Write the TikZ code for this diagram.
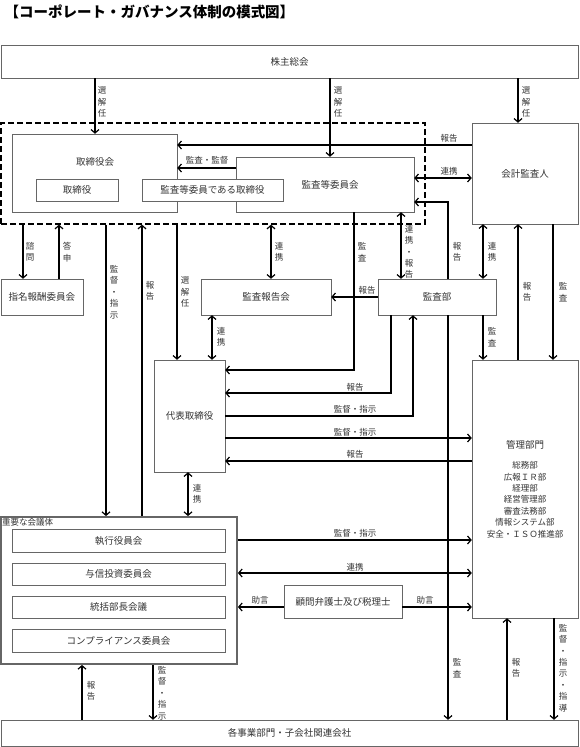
\documentclass[tikz,border=0pt]{standalone}
\usepackage{fontspec}
\setmainfont{Noto Sans CJK JP}
\usetikzlibrary{arrows.meta}
\tikzset{
    box/.style ={
        rectangle,            % 矩形
        draw = black!60,      % 枠線の色
        fill = white,         % 背景
        text = black!80,      % 文字色
        inner sep = 0pt,
        font = \fontsize{9.5}{11.4}\selectfont
    },
    lbl/.style ={
        inner sep = 0pt,
        align = center,       % 縦書きは \\ で改行
        text = black!80,
        font = \fontsize{8.5}{11.4}\selectfont
    },
    link/.style ={
        line width = 1.2pt,
        >={Straight Barb[length=3.5pt,width=8pt]}
    }
}

\begin{document}
\begin{tikzpicture}[x=1pt, y=-1pt]
    \useasboundingbox (0,0) rectangle (579,747);
    \node[anchor=west, font=\bfseries\fontsize{14.5}{16}\selectfont] (title) at (1,12) {【コーポレート・ガバナンス体制の模式図】};

    % 箱
    \node[box, minimum width=577pt, minimum height=33pt] (agm) at (289.5,61.5) {株主総会};
    \node[draw, line width=1.2pt, dash pattern=on 6pt off 3pt, minimum width=424pt, minimum height=101pt, inner sep=0pt] (dashbox) at (213,173.5) {};
    \node[box, minimum width=165pt, minimum height=78pt] (board) at (94.5,173) {};
    \node[lbl, font=\fontsize{9.5}{11.4}\selectfont] (boardlbl) at (95,162) {取締役会};
    \node[box, minimum width=178pt, minimum height=55pt] (auditcom) at (325,184.5) {\hspace*{10pt}監査等委員会};
    \node[box, minimum width=82pt, minimum height=22pt] (director) at (77,190) {取締役};
    \node[box, minimum width=141pt, minimum height=22pt] (auditdir) at (212.5,190) {監査等委員である取締役};
    \node[box, minimum width=106pt, minimum height=101pt] (extaud) at (525,173.5) {会計監査人};
    \node[box, minimum width=82pt, minimum height=36pt] (nomcom) at (42,297) {指名報酬委員会};
    \node[box, minimum width=130pt, minimum height=36pt] (auditrep) at (266,297) {監査報告会};
    \node[box, minimum width=118pt, minimum height=36pt] (auditdep) at (437,297) {監査部};
    \node[box, minimum width=71pt, minimum height=112pt] (ceo) at (189.5,416) {代表取締役};
    \node[box, minimum width=106pt, minimum height=258pt, align=center, font=\fontsize{8.5}{11.4}\selectfont] (admin) at (525,489) {{\fontsize{9.5}{11.4}\selectfont 管理部門}\\[9pt]総務部\\広報ＩＲ部\\経理部\\経営管理部\\審査法務部\\情報システム部\\安全・ＩＳＯ推進部};
    \node[box, line width=1.8pt, minimum width=236pt, minimum height=147pt] (council) at (119,590.5) {};
    \node[lbl, anchor=north west, font=\fontsize{8.5}{10}\selectfont] (councillbl) at (2,518) {重要な会議体};
    \node[box, minimum width=213pt, minimum height=23pt] (exec) at (118.5,540.5) {執行役員会};
    \node[box, minimum width=213pt, minimum height=22pt] (credit) at (118.5,574) {与信投資委員会};
    \node[box, minimum width=213pt, minimum height=22pt] (mgrmtg) at (118.5,607) {統括部長会議};
    \node[box, minimum width=213pt, minimum height=23pt] (compl) at (118.5,640.5) {コンプライアンス委員会};
    \node[box, minimum width=118pt, minimum height=33pt] (advisor) at (343,601.5) {顧問弁護士及び税理士};
    \node[box, minimum width=577pt, minimum height=26pt] (biz) at (289.5,733) {各事業部門・子会社関連会社};

    % 株主総会から
    \draw[link,->] (agm.south -| 95,0) -- (board.north -| 95,0);
    \node[lbl] (l1) at (102,102) {選\\解\\任};
    \draw[link,->] (agm.south -| 330,0) -- (auditcom.north -| 330,0);
    \node[lbl] (l2) at (338,102) {選\\解\\任};
    \draw[link,->] (agm.south -| 518,0) -- (extaud.north -| 518,0);
    \node[lbl] (l3) at (526,102) {選\\解\\任};

    % 取締役会まわり
    \draw[link,->] (extaud.west |- 0,145) -- (board.east |- 0,145);
    \node[lbl] (l4) at (449,138) {報告};
    \draw[link,->] (auditcom.west |- 0,168) -- (board.east |- 0,168);
    \node[lbl] (l5) at (207,160) {監査・監督};
    \draw[link,<->] (auditcom.east |- 0,178) -- (extaud.west |- 0,178);
    \node[lbl] (l6) at (449,171) {連携};
    \draw[link,->] (auditdep.north -| 448,0) |- (auditcom.east |- 0,202);
    \node[lbl] (l7) at (457,252) {報\\告};
    \draw[link,<->] (auditcom.south -| 401,0) -- (auditdep.north -| 401,0);
    \node[lbl] (l8) at (409,252) {連\\携\\・\\報\\告};
    \draw[link,->] (auditcom.south -| 354,0) |- (ceo.east |- 0,370);
    \node[lbl] (l9) at (362,252) {監\\査};
    \draw[link,<->] (dashbox.south -| 271,0) -- (auditrep.north -| 271,0);
    \node[lbl] (l10) at (279,252) {連\\携};

    % 左側
    \draw[link,->] (dashbox.south -| 23,0) -- (nomcom.north -| 23,0);
    \node[lbl] (l11) at (30,252) {諮\\問};
    \draw[link,->] (nomcom.north -| 59,0) -- (dashbox.south -| 59,0);
    \node[lbl] (l12) at (67,252) {答\\申};
    \draw[link,->] (dashbox.south -| 106,0) -- (council.north -| 106,0);
    \node[lbl] (l13) at (114,292) {監\\督\\・\\指\\示};
    \draw[link,->] (council.north -| 142,0) -- (dashbox.south -| 142,0);
    \node[lbl] (l14) at (150,291) {報\\告};
    \draw[link,->] (dashbox.south -| 177,0) -- (ceo.north -| 177,0);
    \node[lbl] (l15) at (185,292) {選\\解\\任};
    \draw[link,<->] (auditrep.south -| 212,0) -- (ceo.north -| 212,0);
    \node[lbl] (l16) at (221,337) {連\\携};

    % 監査部・会計監査人
    \draw[link,->] (auditdep.west) -- (auditrep.east);
    \node[lbl] (l17) at (367,290) {報告};
    \draw[link,<->] (extaud.south -| 483,0) -- (auditdep.north -| 483,0);
    \node[lbl] (l18) at (492,252) {連\\携};
    \draw[link,->] (admin.north -| 518,0) -- (extaud.south -| 518,0);
    \node[lbl] (l19) at (527,292) {報\\告};
    \draw[link,->] (extaud.south -| 553,0) -- (admin.north -| 553,0);
    \node[lbl] (l20) at (563,292) {監\\査};
    \draw[link,->] (auditdep.south -| 483,0) -- (admin.north -| 483,0);
    \node[lbl] (l21) at (492,337) {監\\査};
    \draw[link,->] (auditdep.south -| 448,0) -- (biz.north -| 448,0);
    \node[lbl] (l22) at (457,668) {監\\査};

    % 代表取締役
    \draw[link,->] (auditdep.south -| 391,0) |- (ceo.east |- 0,393);
    \node[lbl] (l23) at (355,387) {報告};
    \draw[link,->] (ceo.east |- 0,416) -| (auditdep.south -| 413,0);
    \node[lbl] (l24) at (355,409) {監督・指示};
    \draw[link,->] (ceo.east |- 0,438) -- (admin.west |- 0,438);
    \node[lbl] (l25) at (355,432) {監督・指示};
    \draw[link,->] (admin.west |- 0,461) -- (ceo.east |- 0,461);
    \node[lbl] (l26) at (355,454) {報告};
    \draw[link,<->] (ceo.south -| 188,0) -- (council.north -| 188,0);
    \node[lbl] (l27) at (197,494) {連\\携};

    % 重要な会議体
    \draw[link,->] (council.east |- 0,540) -- (admin.west |- 0,540);
    \node[lbl] (l28) at (355,533) {監督・指示};
    \draw[link,<->] (council.east |- 0,573) -- (admin.west |- 0,573);
    \node[lbl] (l29) at (355,567) {連携};
    \draw[link,->] (advisor.west |- 0,607) -- (council.east |- 0,607);
    \node[lbl] (l30) at (260,600) {助言};
    \draw[link,->] (advisor.east |- 0,607) -- (admin.west |- 0,607);
    \node[lbl] (l31) at (425,600) {助言};

    % 各事業部門
    \draw[link,->] (biz.north -| 82,0) -- (council.south -| 82,0);
    \node[lbl] (l32) at (91,691) {報\\告};
    \draw[link,->] (council.south -| 153,0) -- (biz.north -| 153,0);
    \node[lbl] (l33) at (162,693) {監\\督\\・\\指\\示};
    \draw[link,->] (biz.north -| 507,0) -- (admin.south -| 507,0);
    \node[lbl] (l34) at (516,668) {報\\告};
    \draw[link,->] (admin.south -| 554,0) -- (biz.north -| 554,0);
    \node[lbl] (l35) at (563,668) {監\\督\\・\\指\\示\\・\\指\\導};
\end{tikzpicture}
\end{document}
